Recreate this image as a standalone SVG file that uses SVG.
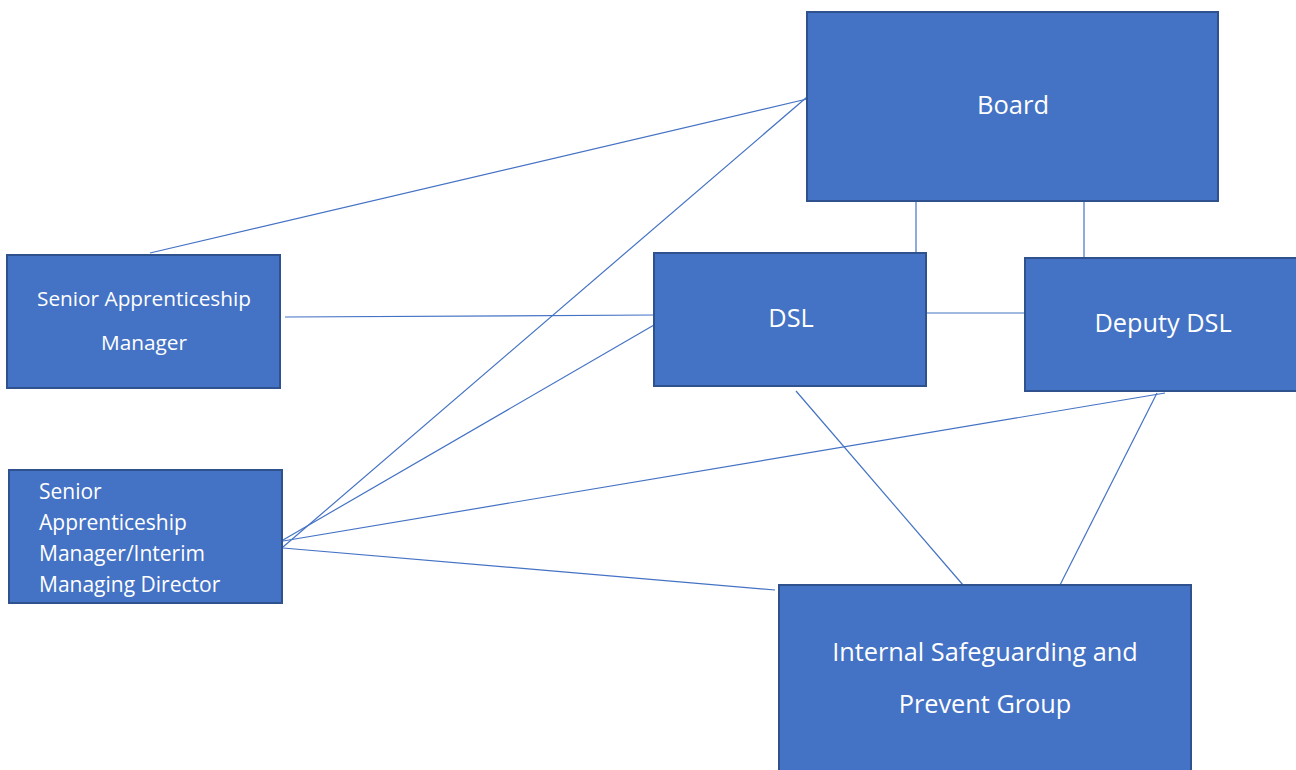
<svg xmlns="http://www.w3.org/2000/svg" width="1296" height="770" viewBox="0 0 1296 770">
<style>
.box{fill:#4472C4;stroke:#2F528F;stroke-width:2}
.t{fill:#fff;font-family:"Open Sans","Liberation Sans",sans-serif}
.c{text-anchor:middle}
.l{stroke:#4472C4;stroke-width:1.2;fill:none}
</style>
<rect width="1296" height="770" fill="#fff"/>
<g id="connectors">
<line class="l" x1="150" y1="253" x2="807" y2="99"/>
<line class="l" x1="283" y1="547" x2="807" y2="97"/>
<line class="l" x1="283" y1="540" x2="654" y2="325"/>
<line class="l" x1="283" y1="541" x2="1165" y2="393"/>
<line class="l" x1="283" y1="548" x2="775" y2="590"/>
<line class="l" x1="285" y1="317" x2="654" y2="315"/>
<line class="l" x1="926" y1="313" x2="1025" y2="313"/>
<line class="l" x1="916" y1="201" x2="916" y2="253"/>
<line class="l" x1="1084" y1="201" x2="1084" y2="258"/>
<line class="l" x1="796" y1="391" x2="963" y2="585"/>
<line class="l" x1="1157" y1="393" x2="1060" y2="585"/>
</g>
<g id="board">
<rect class="box" x="807" y="12" width="411" height="189"/>
<text class="t c" x="1013" y="114" font-size="25.5">Board</text>
</g>
<g id="sam">
<rect class="box" x="7" y="255" width="273" height="133"/>
<text class="t c" x="144" y="306" font-size="20.8">Senior Apprenticeship</text>
<text class="t c" x="144" y="350" font-size="20.8">Manager</text>
</g>
<g id="samimd">
<rect class="box" x="9" y="470" width="273" height="133"/>
<text class="t" x="39" y="499" font-size="21">Senior</text>
<text class="t" x="39" y="530" font-size="21">Apprenticeship</text>
<text class="t" x="39" y="561" font-size="21">Manager/Interim</text>
<text class="t" x="39" y="592" font-size="21">Managing Director</text>
</g>
<g id="dsl">
<rect class="box" x="654" y="253" width="272" height="133"/>
<text class="t c" x="791" y="327" font-size="25.3">DSL</text>
</g>
<g id="deputy">
<rect class="box" x="1025" y="258" width="280" height="133"/>
<text class="t c" x="1163" y="332" font-size="25.3">Deputy DSL</text>
</g>
<g id="ispg">
<rect class="box" x="779" y="585" width="412" height="200"/>
<text class="t c" x="985" y="661" font-size="25.3">Internal Safeguarding and</text>
<text class="t c" x="985" y="713" font-size="25.3">Prevent Group</text>
</g>
</svg>
